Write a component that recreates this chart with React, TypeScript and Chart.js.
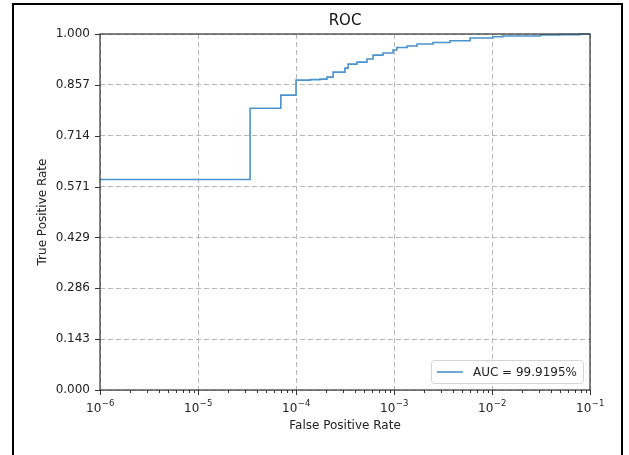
import React, { useEffect, useRef } from "react";
import { Chart, registerables } from "chart.js";

Chart.register(...registerables);

// ROC operating points (false positive rate, true positive rate)
const fpr = [
  1e-6, 3.4e-5, 7.0e-5, 1.0e-4, 1.39e-4, 1.76e-4, 2.07e-4, 2.39e-4, 3.16e-4,
  3.4e-4, 4.19e-4, 5.3e-4, 6.11e-4, 7.72e-4, 9.77e-4, 1.07e-3, 1.36e-3,
  1.72e-3, 2.5e-3, 3.73e-3, 5.97e-3, 1.02e-2, 1.29e-2, 3.09e-2, 4.94e-2,
  7.9e-2, 1e-1,
];
const tpr = [
  0.5915, 0.7915, 0.8282, 0.8704, 0.8718, 0.8732, 0.8789, 0.893, 0.9042,
  0.9155, 0.9211, 0.9296, 0.9408, 0.9465, 0.9549, 0.962, 0.9662, 0.9718,
  0.9761, 0.9811, 0.9887, 0.9924, 0.9944, 0.9972, 0.9983, 1.0, 1.0,
];

// x tick labels are drawn as "10" with a raised exponent
const xDecades = [-6, -5, -4, -3, -2, -1];
const xTickBase = "10";
const xTickExponents = ["−6", "−5", "−4", "−3", "−2", "−1"];
const yTickValues = [0, 1 / 7, 2 / 7, 3 / 7, 4 / 7, 5 / 7, 6 / 7, 1];
const yTickLabels = ["0.000", "0.143", "0.286", "0.429", "0.571", "0.714", "0.857", "1.000"];

const aucLabel = "AUC = 99.9195%";
const chartTitle = "ROC";
const xAxisTitle = "False Positive Rate";
const yAxisTitle = "True Positive Rate";

const FONT = "'DejaVu Sans', sans-serif";
const LINE_COLOR = "#4a93cc";
const TEXT_COLOR = "#222222";

const decadeOf = (v: number) => {
  const l = Math.log10(v);
  const r = Math.round(l);
  return Math.abs(l - r) < 1e-6 ? r : null;
};

// Figure frame, axes spines, tick marks, power-of-ten labels and the legend box
const decorPlugin = {
  id: "decor",
  beforeDraw(chart: any) {
    const { ctx, width, height } = chart;
    ctx.save();
    ctx.fillStyle = "#ffffff";
    ctx.fillRect(0, 0, width, height);
    ctx.strokeStyle = "#000000";
    ctx.lineWidth = 2;
    ctx.strokeRect(13, 4, 609, height + 20);
    ctx.restore();
  },
  afterDatasetsDraw(chart: any) {
    const { ctx, chartArea, scales } = chart;
    const { left, right, top, bottom } = chartArea;
    const xs = scales.x;
    const ys = scales.y;
    ctx.save();
    ctx.strokeStyle = "#333333";
    ctx.lineWidth = 1;
    ctx.beginPath();
    for (const t of xs.ticks) {
      const px = Math.round(xs.getPixelForValue(t.value)) + 0.5;
      const len = decadeOf(t.value) !== null ? 5 : 3;
      ctx.moveTo(px, bottom);
      ctx.lineTo(px, bottom + len);
    }
    for (const t of ys.ticks) {
      const py = Math.round(ys.getPixelForValue(t.value)) + 0.5;
      ctx.moveTo(left - 5, py);
      ctx.lineTo(left, py);
    }
    ctx.stroke();
    ctx.lineWidth = 1.2;
    ctx.strokeRect(left, top, right - left, bottom - top);

    // power-of-ten tick labels
    ctx.fillStyle = TEXT_COLOR;
    ctx.textBaseline = "alphabetic";
    ctx.textAlign = "left";
    const baseY = bottom + 21.5;
    xDecades.forEach((d, i) => {
      const px = xs.getPixelForValue(Math.pow(10, d));
      ctx.font = `12px ${FONT}`;
      const w1 = ctx.measureText(xTickBase).width;
      ctx.font = `8.5px ${FONT}`;
      const w2 = ctx.measureText(xTickExponents[i]).width;
      const x0 = px - (w1 + w2) / 2;
      ctx.font = `12px ${FONT}`;
      ctx.fillText(xTickBase, x0, baseY);
      ctx.font = `8.5px ${FONT}`;
      ctx.fillText(xTickExponents[i], x0 + w1 + 0.5, baseY - 5.5);
    });

    // legend
    const ds = chart.data.datasets[0];
    ctx.font = `12px ${FONT}`;
    const tw = ctx.measureText(ds.label).width;
    const bw = tw + 48;
    const bh = 23;
    const bx = right - 7 - bw;
    const by = bottom - 7 - bh;
    ctx.beginPath();
    ctx.roundRect(bx + 0.5, by + 0.5, bw, bh, 3);
    ctx.fillStyle = "rgba(255,255,255,0.85)";
    ctx.fill();
    ctx.strokeStyle = "#d4d4d4";
    ctx.lineWidth = 1;
    ctx.stroke();
    const cy = by + bh / 2 + 0.5;
    ctx.beginPath();
    ctx.moveTo(bx + 6, cy);
    ctx.lineTo(bx + 32, cy);
    ctx.strokeStyle = ds.borderColor;
    ctx.lineWidth = 1.6;
    ctx.stroke();
    ctx.fillStyle = TEXT_COLOR;
    ctx.textBaseline = "middle";
    ctx.textAlign = "left";
    ctx.fillText(ds.label, bx + 42, cy + 0.5);
    ctx.restore();
  },
};

export default function App() {
  const canvasRef = useRef<HTMLCanvasElement | null>(null);

  useEffect(() => {
    const canvas = canvasRef.current;
    if (!canvas) return;
    const points = fpr.map((x, i) => ({ x, y: tpr[i] }));

    const chart = new Chart(canvas, {
      type: "line",
      data: {
        datasets: [
          {
            label: aucLabel,
            data: points,
            borderColor: LINE_COLOR,
            backgroundColor: LINE_COLOR,
            borderWidth: 1.6,
            pointRadius: 0,
            stepped: "before",
            fill: false,
            clip: 1,
          },
        ],
      },
      options: {
        animation: false,
        responsive: false,
        devicePixelRatio: 1,
        layout: { padding: { left: 0, right: 39, top: 0, bottom: 0 } },
        plugins: {
          legend: { display: false },
          tooltip: { enabled: false },
          title: {
            display: true,
            text: chartTitle,
            fullSize: false,
            color: "#111111",
            font: { family: FONT, size: 15, weight: "normal", lineHeight: 1.2 },
            padding: { top: 12, bottom: 4 },
          },
        },
        scales: {
          x: {
            type: "logarithmic",
            min: 1e-6,
            max: 1e-1,
            afterBuildTicks: (scale: any) => {
              const ticks: any[] = [];
              for (let e = -6; e <= -2; e++) {
                for (let k = 1; k <= 9; k++) ticks.push({ value: k * Math.pow(10, e) });
              }
              ticks.push({ value: 1e-1 });
              scale.ticks = ticks;
            },
            afterFit: (scale: any) => {
              scale.height = 65;
            },
            ticks: {
              autoSkip: false,
              maxRotation: 0,
              padding: 8,
              color: TEXT_COLOR,
              font: { family: FONT, size: 12 },
              callback: () => "",
            },
            grid: {
              drawTicks: false,
              lineWidth: 1,
              color: (c: any) =>
                c.tick && decadeOf(c.tick.value) !== null ? "#b8b8b8" : "rgba(0,0,0,0)",
            },
            border: { display: false, dash: [5, 3] },
            title: {
              display: true,
              text: xAxisTitle,
              color: TEXT_COLOR,
              font: { family: FONT, size: 12, lineHeight: 1.2 },
              padding: { top: 0, bottom: 22 },
            },
          },
          y: {
            type: "linear",
            min: 0,
            max: 1,
            afterBuildTicks: (scale: any) => {
              scale.ticks = yTickValues.map((value) => ({ value }));
            },
            afterFit: (scale: any) => {
              scale.width = 100;
            },
            ticks: {
              autoSkip: false,
              padding: 10,
              color: TEXT_COLOR,
              font: { family: FONT, size: 12 },
              callback: (_v: any, index: number) => yTickLabels[index],
            },
            grid: {
              drawTicks: false,
              lineWidth: 1,
              color: "#b8b8b8",
            },
            border: { display: false, dash: [5, 3] },
            title: {
              display: true,
              text: yAxisTitle,
              color: TEXT_COLOR,
              font: { family: FONT, size: 12, lineHeight: 1.2 },
              padding: { top: 36, bottom: 0 },
            },
          },
        },
      },
      plugins: [decorPlugin],
    });

    return () => chart.destroy();
  }, []);

  return (
    <div style={{ position: "fixed", left: 0, top: 0, width: 629, height: 455, background: "#fff" }}>
      <canvas ref={canvasRef} width={629} height={455} style={{ display: "block" }} />
    </div>
  );
}
